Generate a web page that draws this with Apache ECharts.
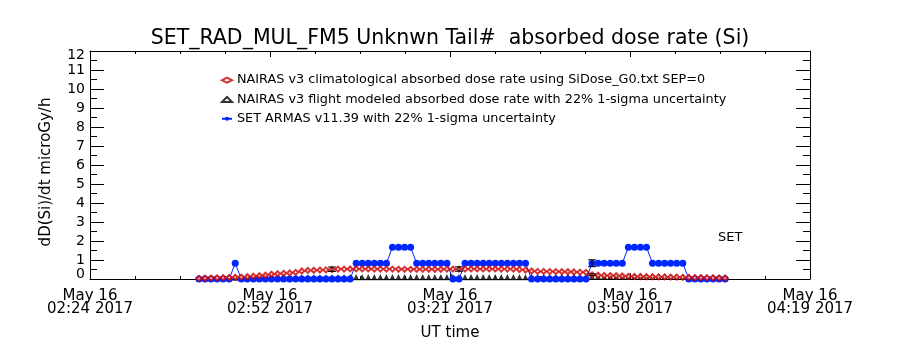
<!DOCTYPE html>
<html>
<head>
<meta charset="utf-8">
<script src="https://cdn.jsdelivr.net/npm/echarts@6/dist/echarts.min.js"></script>
<style>html,body{margin:0;padding:0;background:#fff}#c{width:900px;height:350px}</style>
</head>
<body>
<div id="c"></div>
<script>
// Sample times: minutes after 02:24 UT, May 16 2017 (regular cadence)
const START_MIN = 17.4;
const STEP_MIN = 0.966;

const X_TICK_LABELS = ['May 16\n02:24 2017', 'May 16\n02:52 2017', 'May 16\n03:21 2017', 'May 16\n03:50 2017', 'May 16\n04:19 2017'];
const Y_TICK_LABELS = ['0','1','2','3','4','5','6','7','8','9','10','11','12'];

const NAME_RED = 'NAIRAS v3 climatological absorbed dose rate using SiDose_G0.txt SEP=0';
const NAME_TRI = 'NAIRAS v3 flight modeled absorbed dose rate with 22% 1-sigma uncertainty';
const NAME_BLUE = 'SET ARMAS v11.39 with 22% 1-sigma uncertainty';

const RED = [0.03,0.04,0.05,0.06,0.07,0.08,0.09,0.1,0.12,0.15,
  0.17,0.2,0.25,0.28,0.3,0.32,0.35,0.42,0.45,0.46,
  0.47,0.48,0.5,0.52,0.52,0.53,0.53,0.53,0.53,0.52,
  0.52,0.52,0.52,0.51,0.51,0.51,0.51,0.51,0.51,0.51,
  0.51,0.52,0.52,0.52,0.52,0.53,0.53,0.53,0.53,0.53,
  0.52,0.52,0.52,0.5,0.47,0.42,0.4,0.4,0.39,0.39,
  0.38,0.38,0.37,0.36,0.35,0.22,0.2,0.19,0.18,0.17,
  0.16,0.14,0.13,0.13,0.12,0.12,0.11,0.11,0.1,0.1,
  0.09,0.08,0.07,0.07,0.06,0.06,0.05,0.05];

const TRI = [0.02,0.02,0.03,0.03,0.03,0.04,0.04,0.04,0.04,0.05,
  0.05,0.05,0.05,0.05,0.05,0.05,0.05,0.05,0.05,0.05,
  0.05,0.05,0.05,0.06,0.06,0.06,0.06,0.06,0.06,0.06,
  0.06,0.06,0.06,0.06,0.06,0.06,0.06,0.06,0.06,0.06,
  0.06,0.06,0.06,0.06,0.06,0.06,0.06,0.06,0.06,0.06,
  0.06,0.06,0.06,0.06,0.06,0.07,0.07,0.07,0.07,0.07,
  0.07,0.08,0.08,0.08,0.08,0.09,0.1,0.1,0.1,0.1,
  0.11,0.11,0.11,0.11,0.1,0.1,0.1,0.1,0.09,0.09,
  0.08,0.08,0.07,0.07,0.06,0.06,0.05,0.05];

const BLUE = [0,0,0,0,0,0,0.83,0,0,0,
  0,0,0,0,0,0,0,0,0,0,
  0,0,0,0,0,0,0.83,0.83,0.83,0.83,
  0.83,0.83,1.67,1.67,1.67,1.67,0.83,0.83,0.83,0.83,
  0.83,0.83,0,0,0.83,0.83,0.83,0.83,0.83,0.83,
  0.83,0.83,0.83,0.83,0.83,0,0,0,0,0,
  0,0,0,0,0,0.83,0.83,0.83,0.83,0.83,
  0.83,1.67,1.67,1.67,1.67,0.83,0.83,0.83,0.83,0.83,
  0.83,0,0,0,0,0,0,0];

// Error bars: [sample index, low, high]
const ERR_RED = [[22, 0.40, 0.63], [43, 0.41, 0.64], [65, 0.17, 0.27]];
const ERR_BLUE = [[65, 0.65, 1.01]];

const FONT = 'DejaVu Sans';
const tAt = i => START_MIN + i * STEP_MIN;
const pairs = arr => arr.map((v, i) => [tAt(i), v]);
const errData = ERR_RED.concat(ERR_BLUE).map(e => [tAt(e[0]), e[1], e[2]]);

const chart = echarts.init(document.getElementById('c'), null, {renderer: 'canvas'});

const xCommon = {
  type: 'value', min: 0, max: 115, interval: 28.75,
  axisLine: {show: true, onZero: false, lineStyle: {color: '#000', width: 1}},
  axisTick: {show: true, inside: true, length: 6, lineStyle: {color: '#000'}},
  minorTick: {show: true, splitNumber: 4, length: 3, lineStyle: {color: '#000'}},
  splitLine: {show: false}, minorSplitLine: {show: false}
};
const yCommon = {
  type: 'value', min: 0, max: 12, interval: 1,
  axisLine: {show: true, onZero: false, lineStyle: {color: '#000', width: 1}},
  axisTick: {show: true, inside: true, length: 14, lineStyle: {color: '#000'}},
  minorTick: {show: true, splitNumber: 2, length: 7, lineStyle: {color: '#000'}},
  splitLine: {show: false}, minorSplitLine: {show: false}
};

chart.setOption({
  animation: false,
  backgroundColor: '#fff',
  textStyle: {fontFamily: FONT},
  title: {
    text: 'SET_RAD_MUL_FM5 Unknwn Tail#  absorbed dose rate (Si)',
    left: 'center', top: 23,
    textStyle: {fontFamily: FONT, fontSize: 20.5, fontWeight: 'normal', color: '#000'}
  },
  grid: {left: 90, right: 90, top: 51, bottom: 71, containLabel: false},
  legend: {
    orient: 'vertical', left: 221, top: 73, padding: 0,
    itemWidth: 10, itemHeight: 5, itemGap: 5,
    selectedMode: false,
    textStyle: {fontFamily: FONT, fontSize: 12.8, color: '#000', lineHeight: 14.3},
    data: [NAME_RED, NAME_TRI, NAME_BLUE]
  },
  graphic: [{
    type: 'text', left: 718, top: 231,
    style: {text: 'SET', fontFamily: FONT, fontSize: 13, fill: '#000'}
  }],
  xAxis: [
    Object.assign({}, xCommon, {
      position: 'bottom',
      name: 'UT time', nameLocation: 'middle', nameGap: 47,
      nameTextStyle: {fontFamily: FONT, fontSize: 15, color: '#000'},
      axisLabel: {
        show: true, margin: 11, color: '#000', fontFamily: FONT, fontSize: 15, lineHeight: 13,
        showMinLabel: true, showMaxLabel: true, hideOverlap: false,
        formatter: v => X_TICK_LABELS[Math.round(v / 28.75)]
      }
    }),
    Object.assign({}, xCommon, {position: 'top', axisLabel: {show: false}})
  ],
  yAxis: [
    Object.assign({}, yCommon, {
      position: 'left',
      name: 'dD(Si)/dt microGy/h', nameLocation: 'middle', nameGap: 36,
      nameTextStyle: {fontFamily: FONT, fontSize: 15, color: '#000', padding: [0, 14, 0, 0]},
      axisLabel: {
        show: true, margin: 5, color: '#000', fontFamily: FONT, fontSize: 14, lineHeight: 9,
        showMinLabel: true, showMaxLabel: true, hideOverlap: false,
        verticalAlignMinLabel: 'bottom', verticalAlignMaxLabel: 'top',
        formatter: v => Y_TICK_LABELS[Math.round(v)]
      }
    }),
    Object.assign({}, yCommon, {position: 'right', axisLabel: {show: false}})
  ],
  series: [
    {
      name: NAME_TRI, type: 'scatter', xAxisIndex: 0, yAxisIndex: 0, z: 2,
      symbol: 'emptyTriangle', symbolSize: 3,
      itemStyle: {color: '#000', borderColor: '#000', borderWidth: 1},
      data: pairs(TRI)
    },
    {
      name: NAME_BLUE, type: 'line', xAxisIndex: 0, yAxisIndex: 0, z: 3,
      symbol: 'circle', symbolSize: 7, showAllSymbol: true,
      lineStyle: {color: '#0026ff', width: 1},
      itemStyle: {color: '#0026ff'},
      data: pairs(BLUE)
    },
    {
      name: NAME_RED, type: 'scatter', xAxisIndex: 0, yAxisIndex: 0, z: 4,
      symbol: 'emptyDiamond', symbolSize: [5, 5],
      itemStyle: {color: '#cc0000', borderColor: '#cc0000', borderWidth: 1},
      data: pairs(RED)
    },
    {
      name: 'err', type: 'custom', xAxisIndex: 0, yAxisIndex: 0, z: 5,
      renderItem: (params, api) => {
        const lo = api.coord([api.value(0), api.value(1)]);
        const hi = api.coord([api.value(0), api.value(2)]);
        const w = 4;
        const st = {stroke: '#000', lineWidth: 1};
        return {type: 'group', children: [
          {type: 'line', shape: {x1: lo[0], y1: lo[1], x2: hi[0], y2: hi[1]}, style: st},
          {type: 'line', shape: {x1: lo[0] - w, y1: lo[1], x2: lo[0] + w, y2: lo[1]}, style: st},
          {type: 'line', shape: {x1: hi[0] - w, y1: hi[1], x2: hi[0] + w, y2: hi[1]}, style: st}
        ]};
      },
      data: errData
    }
  ]
});
</script>
</body>
</html>
